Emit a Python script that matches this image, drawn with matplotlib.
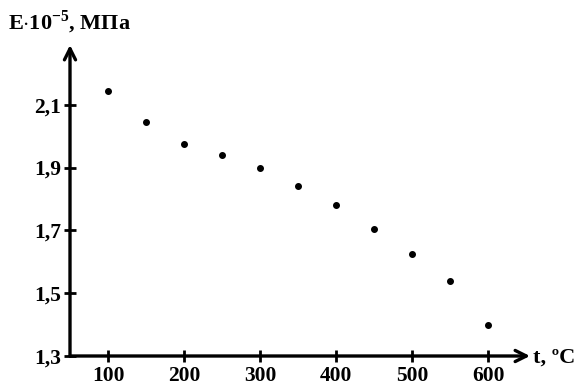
import matplotlib.pyplot as plt

# Data
t = [100, 150, 200, 250, 300, 350, 400, 450, 500, 550, 600]
E = [2.145, 2.045, 1.975, 1.94, 1.90, 1.84, 1.78, 1.705, 1.625, 1.54, 1.40]
x_ticks = [100, 200, 300, 400, 500, 600]
y_ticks = [1.3, 1.5, 1.7, 1.9, 2.1]
y_labels = ['1,3', '1,5', '1,7', '1,9', '2,1']

plt.rcParams['font.family'] = ['Liberation Serif', 'DejaVu Serif']
plt.rcParams['font.weight'] = 'bold'
plt.rcParams['mathtext.fontset'] = 'custom'
plt.rcParams['mathtext.rm'] = 'Liberation Serif:bold'
plt.rcParams['mathtext.bf'] = 'Liberation Serif:bold'

fig = plt.figure(figsize=(5.81, 3.83), dpi=100)
W, H = 581, 383
x0, y0, x1, y1 = 70, 356, 530, 45
ax = fig.add_axes([x0 / W, (H - y0) / H, (x1 - x0) / W, (y0 - y1) / H])

ax.plot(t, E, 'o', color='black', ms=4)

ax.set_xlim(50, 655)
ax.set_ylim(1.3, 2.29)
ax.set_xticks(x_ticks)
ax.set_yticks(y_ticks)
ax.set_yticklabels(y_labels)
ax.tick_params(direction='inout', length=9, width=2, labelsize=15.5, pad=2)
ax.tick_params(axis='x', pad=3)

for s in ax.spines.values():
    s.set_visible(False)

# axis arrows
arrow = dict(arrowstyle='->,head_length=0.8,head_width=0.4', lw=2.4, color='black',
             shrinkA=0, shrinkB=0)
ax.annotate('', xy=(1, 0), xytext=(0, 0), xycoords='axes fraction',
            arrowprops=arrow, annotation_clip=False)
ax.annotate('', xy=(0, 1), xytext=(0, 0), xycoords='axes fraction',
            arrowprops=arrow, annotation_clip=False)

fig.text(8 / W, 1 - 22 / H, r'E$\cdot$10$^{\mathbf{-5}}$, МПа', fontsize=16,
         fontweight='bold', va='center', ha='left')
fig.text(533 / W, 1 - 358 / H, 't, ºC', fontsize=16, fontweight='bold',
         va='center', ha='left')

fig.savefig('out.png', dpi=100)
